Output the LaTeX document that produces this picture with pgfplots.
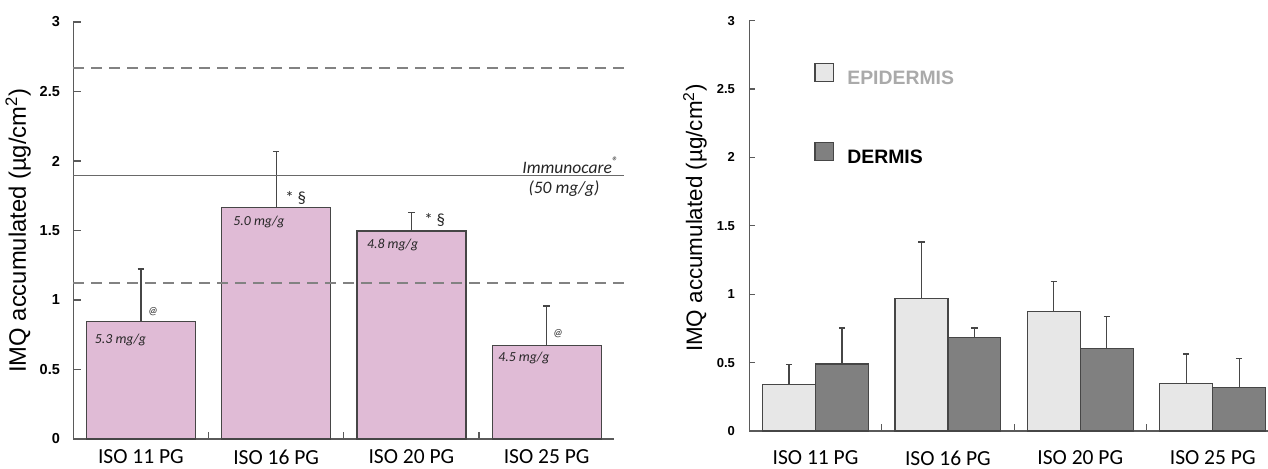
\documentclass[border=0pt]{standalone}
\usepackage{fontspec}
\setmainfont{Carlito}
\newfontfamily\arial{Liberation Sans}
\usepackage{pgfplots}
\pgfplotsset{compat=1.18}
\definecolor{pinkbar}{RGB}{224,187,214}
\definecolor{lightbar}{RGB}{231,231,231}
\definecolor{darkbar}{RGB}{128,128,128}
\definecolor{axisgray}{RGB}{90,90,90}
\definecolor{bordergray}{RGB}{70,70,70}
\definecolor{errgray}{RGB}{70,70,70}
\definecolor{dashgray}{RGB}{130,130,130}
\definecolor{solidgray}{RGB}{105,105,105}
\definecolor{epigray}{RGB}{170,170,170}
\pgfplotsset{
  mybase/.style={
    scale only axis, xmin=0, xmax=4, ymin=0, ymax=3,
    axis x line*=bottom, axis y line*=left,
    axis line style={draw=axisgray, line width=0.6pt, -},
    tick align=inside, clip=false,
    ytick={0,0.5,1,1.5,2,2.5,3},
    /pgf/number format/assume math mode=true,
    xtick={0.5,1.5,2.5,3.5},
    xticklabels={ISO 11 PG, ISO 16 PG, ISO 20 PG, ISO 25 PG},
    xtick style={draw=none},
    extra x ticks={1,2,3}, extra x tick labels={},
    extra x tick style={xtick style={draw=axisgray, line width=0.6pt}, major tick length=3.3pt},
    ytick style={draw=axisgray, line width=0.6pt},
    xticklabel style={font=\fontsize{10.75}{12}\selectfont, inner sep=0pt, anchor=north},
    yticklabel style={inner sep=0pt, anchor=east},
    ylabel={IMQ accumulated (µg/cm\textsuperscript{2})},
  },
  errs/.style={error bars/.cd, y dir=plus, y explicit,
    error bar style={draw=errgray, line width=0.6pt},
    error mark options={rotate=90, draw=errgray, line width=0.8pt, mark size=1.6pt}},
  legimg/.style={legend image code/.code={\draw[##1, line width=0.6pt] (0pt,-1.1pt) rectangle (9.4pt,7.9pt);}},
}
\begin{document}
\begin{tikzpicture}
% ---------------- left panel ----------------
\begin{axis}[mybase,
  at={(36.65pt,14.5pt)}, anchor=south west,
  width=270.5pt, height=208.5pt,
  major tick length=4pt,
  xticklabel style={yshift=-5.3pt},
  yticklabel style={font=\arial\bfseries\fontsize{7.25}{8}\selectfont, xshift=-6.5pt},
  ylabel style={at={(axis description cs:-0.102,0.5)}, anchor=center, font=\arial\fontsize{11.9}{14}\selectfont},
]
\addplot[ybar, bar width=0.806, fill=pinkbar, draw=bordergray, line width=0.6pt, errs]
  coordinates {(0.5,0.844) +- (0,0.379) (1.5,1.664) +- (0,0.403) (2.5,1.496) +- (0,0.134) (3.5,0.671) +- (0,0.288)};
\addplot[draw=dashgray, line width=1pt, dash pattern=on 5.5pt off 3.5pt] coordinates {(0,2.67) (4.094,2.67)};
\addplot[draw=dashgray, line width=1pt, dash pattern=on 5.5pt off 3.5pt] coordinates {(0,1.12) (4.094,1.12)};
\addplot[draw=solidgray, line width=0.7pt] coordinates {(0,1.894) (4.07,1.894)};
\begin{scope}[every node/.style={inner sep=0pt, text=black!85}]
\node[anchor=center, font=\itshape\fontsize{5.5}{6}\selectfont] at (axis cs:0.589,0.916) {@};
\node[anchor=west, font=\itshape\fontsize{6.9}{8}\selectfont] at (axis cs:0.157,0.712) {5.3 mg/g};
\node[anchor=west, font=\fontsize{8.5}{10}\selectfont] at (axis cs:1.565,1.732) {* §};
\node[anchor=west, font=\itshape\fontsize{6.9}{8}\selectfont] at (axis cs:1.181,1.563) {5.0 mg/g};
\node[anchor=west, font=\fontsize{8.5}{10}\selectfont] at (axis cs:2.593,1.576) {* §};
\node[anchor=west, font=\itshape\fontsize{6.9}{8}\selectfont] at (axis cs:2.169,1.396) {4.8 mg/g};
\node[anchor=center, font=\itshape\fontsize{5.5}{6}\selectfont] at (axis cs:3.584,0.755) {@};
\node[anchor=west, font=\itshape\fontsize{6.9}{8}\selectfont] at (axis cs:3.140,0.583) {4.5 mg/g};
\node[anchor=east, font=\itshape\fontsize{8.75}{10}\selectfont] at (axis cs:4.039,1.971) {Immunocare\textsuperscript{®}};
\node[anchor=center, font=\itshape\fontsize{8.75}{10}\selectfont] at (axis cs:3.628,1.804) {(50 mg/g)};
\end{scope}
\end{axis}
% ---------------- right panel ----------------
\begin{axis}[mybase,
  at={(374.65pt,18.5pt)}, anchor=south west,
  width=264.8pt, height=205.2pt,
  major tick length=3pt,
  xticklabel style={yshift=-9.6pt},
  yticklabel style={font=\arial\bfseries\fontsize{6.5}{7}\selectfont, xshift=-7pt},
  ylabel style={at={(axis description cs:-0.1025,0.519)}, anchor=center, font=\arial\fontsize{11.2}{13}\selectfont},
  legend style={at={(axis cs:0.491,2.688)}, anchor=north west, draw=none, fill=none,
    inner sep=0pt, outer sep=0pt, row sep=26.8pt, column sep=6.5pt,
    font=\arial\bfseries\fontsize{9.7}{11}\selectfont, nodes={inner sep=0pt}},
  legend cell align=left,
]
\addlegendimage{legimg, fill=lightbar, draw=bordergray}
\addlegendentry{\textcolor{epigray}{EPIDERMIS}}
\addlegendimage{legimg, fill=darkbar, draw=bordergray}
\addlegendentry{DERMIS}
\addplot[forget plot, ybar, bar width=0.4, fill=lightbar, draw=bordergray, line width=0.6pt, errs]
  coordinates {(0.3,0.340) +- (0,0.147) (1.3,0.970) +- (0,0.411) (2.3,0.874) +- (0,0.218) (3.3,0.345) +- (0,0.218)};
\addplot[forget plot, ybar, bar width=0.4, fill=darkbar, draw=bordergray, line width=0.6pt, errs]
  coordinates {(0.7,0.490) +- (0,0.262) (1.7,0.682) +- (0,0.073) (2.7,0.602) +- (0,0.235) (3.7,0.320) +- (0,0.209)};
\end{axis}
\pgfresetboundingbox
\path[use as bounding box] (0,0) rectangle (634pt,234pt);
\end{tikzpicture}
\end{document}
